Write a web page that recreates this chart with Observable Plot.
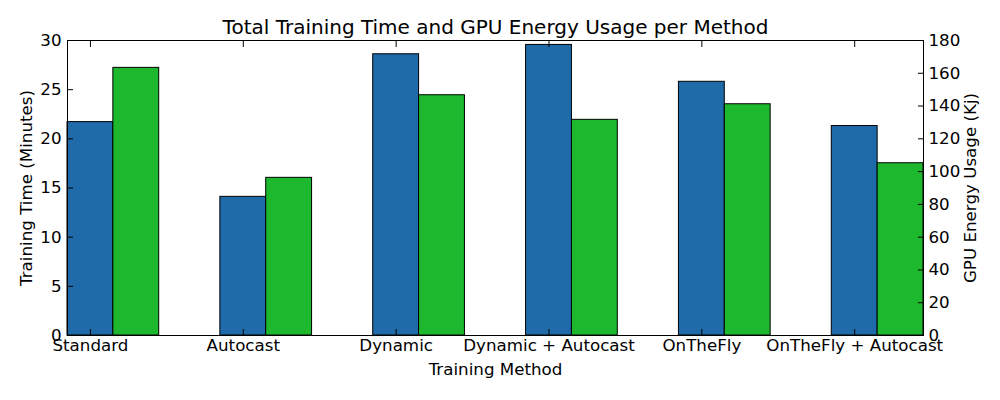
<!DOCTYPE html>
<html>
<head>
<meta charset="utf-8">
<script src="https://cdn.jsdelivr.net/npm/d3@7"></script>
<script src="https://cdn.jsdelivr.net/npm/@observablehq/plot@0.6"></script>
<style>
  html, body { margin: 0; padding: 0; background: #fff; }
</style>
</head>
<body>
<div id="chart"></div>
<script>
const methods = ["Standard", "Autocast", "Dynamic", "Dynamic + Autocast", "OnTheFly", "OnTheFly + Autocast"];
const trainingTime = [21.7, 14.1, 28.6, 29.55, 25.8, 21.3];   // minutes
const gpuEnergy = [163.3, 96.2, 146.6, 131.6, 141.1, 105.1];  // kJ
const timeTicks = [0, 5, 10, 15, 20, 25, 30];
const energyTicks = [0, 20, 40, 60, 80, 100, 120, 140, 160, 180];
const energyMax = 180, timeMax = 30;
const ratio = energyMax / timeMax;
const barWidth = 0.3;

const data = methods.map((m, i) => ({i, method: m, time: trainingTime[i], energy: gpuEnergy[i]}));

const fs = 16.7;
const chart = Plot.plot({
  width: 1000,
  height: 400,
  marginLeft: 67,
  marginRight: 77,
  marginTop: 40,
  marginBottom: 65,
  style: {fontFamily: "DejaVu Sans", fontSize: fs + "px", color: "black", background: "white"},
  x: {domain: [-barWidth / 2, methods.length - 1 + 1.5 * barWidth], label: null},
  y: {domain: [0, timeMax], label: null},
  marks: [
    Plot.rectY(data, {x1: d => d.i - barWidth / 2, x2: d => d.i + barWidth / 2, y: "time", fill: "#1f6aa8", stroke: "black", strokeWidth: 1}),
    Plot.rectY(data, {x1: d => d.i + barWidth / 2, x2: d => d.i + 1.5 * barWidth, y: d => d.energy / ratio, fill: "#1db82d", stroke: "black", strokeWidth: 1}),
    Plot.frame({stroke: "black", strokeWidth: 1}),
    Plot.axisX({anchor: "bottom", ticks: d3.range(methods.length), tickFormat: i => methods[i], tickSize: -6, tickPadding: 10, label: null, fontSize: fs}),
    Plot.axisX({anchor: "top", ticks: d3.range(methods.length), tickFormat: () => "", tickSize: -6, label: null}),
    Plot.axisY({anchor: "left", ticks: timeTicks, tickFormat: d => d, tickSize: -6, tickPadding: 12, label: null, fontSize: fs}),
    Plot.axisY({anchor: "right", ticks: energyTicks.map(v => v / ratio), tickFormat: d => Math.round(d * ratio), tickSize: -6, tickPadding: 11, label: null, fontSize: fs}),
    Plot.text(["Total Training Time and GPU Energy Usage per Method"], {frameAnchor: "top", dy: -13, lineAnchor: "middle", textAnchor: "middle", text: d => d, fontSize: 20, fill: "black"}),
    Plot.text(["Training Method"], {frameAnchor: "bottom", dy: 34, lineAnchor: "middle", textAnchor: "middle", text: d => d, fontSize: fs, fill: "black"}),
    Plot.text(["Training Time (Minutes)"], {frameAnchor: "left", dx: -41, rotate: -90, lineAnchor: "middle", textAnchor: "middle", text: d => d, fontSize: fs, fill: "black"}),
    Plot.text(["GPU Energy Usage (Kj)"], {frameAnchor: "right", dx: 47.5, rotate: -90, lineAnchor: "middle", textAnchor: "middle", text: d => d, fontSize: fs, fill: "black"})
  ]
});
document.getElementById("chart").appendChild(chart);
</script>
</body>
</html>
